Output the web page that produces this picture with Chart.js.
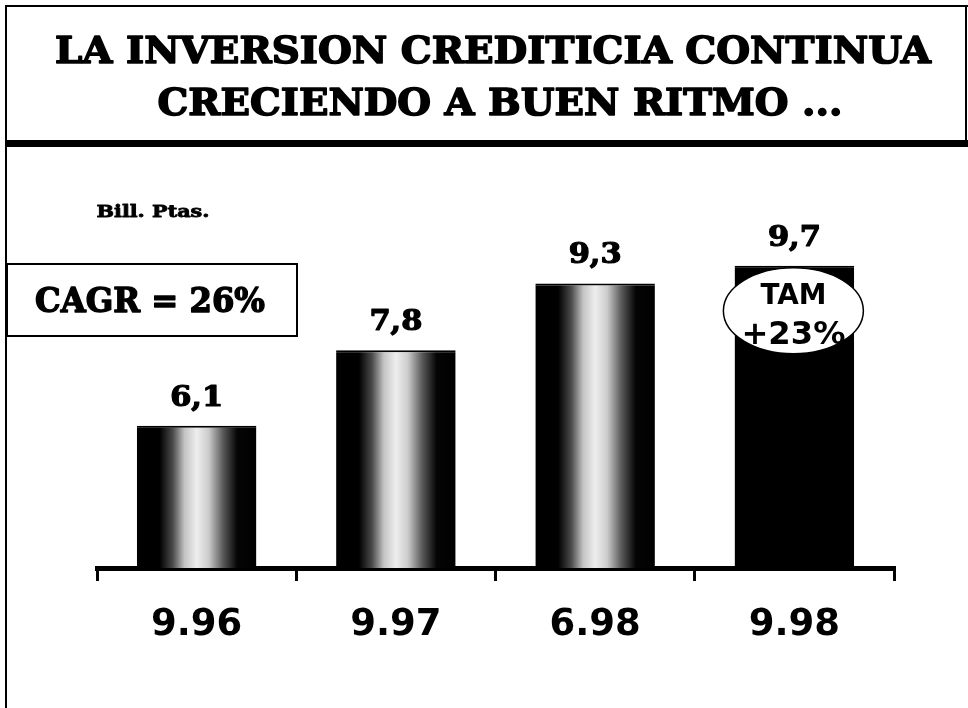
<!DOCTYPE html>
<html>
<head>
<meta charset="utf-8">
<script src="https://cdn.jsdelivr.net/npm/chart.js@4/dist/chart.umd.min.js"></script>
<style>
  html, body { margin: 0; padding: 0; background: #fff; }
  #wrap { width: 968px; height: 708px; position: relative; }
</style>
</head>
<body>
<div id="wrap"><canvas id="c" width="968" height="708"></canvas></div>
<script>
// ---- data ----
const categories = ['9.96', '9.97', '6.98', '9.98'];
const values = [6.1, 7.8, 9.3, 9.7];
const valueLabels = values.map(v => v.toFixed(1).replace('.', ','));
const titleLines = ['LA INVERSION CREDITICIA CONTINUA', 'CRECIENDO A BUEN RITMO ...'];
const unitLabel = 'Bill. Ptas.';
const cagrLabel = 'CAGR = 26%';
const tamLines = ['TAM', '+23%'];
const solidBars = [false, false, false, true];

function fitText(ctx, text, cx, baseline, font, targetW, stroke) {
  ctx.save();
  ctx.font = font;
  ctx.textAlign = 'center';
  ctx.textBaseline = 'alphabetic';
  const w = ctx.measureText(text).width;
  const sx = targetW ? targetW / w : 1;
  ctx.translate(cx, baseline);
  ctx.scale(sx, 1);
  ctx.fillStyle = '#000';
  ctx.fillText(text, 0, 0);
  if (stroke) {
    ctx.lineWidth = stroke;
    ctx.strokeStyle = '#000';
    ctx.lineJoin = 'round';
    ctx.strokeText(text, 0, 0);
  }
  ctx.restore();
}

function barFill(context) {
  const chart = context.chart;
  const i = context.dataIndex;
  if (solidBars[i]) return '#000';
  const xs = chart.scales.x;
  if (!xs || xs.width === undefined || !isFinite(xs.getPixelForValue(i))) return '#333';
  const cw = xs.width / categories.length;
  const half = cw * 0.6 / 2;
  const cx = xs.getPixelForValue(i);
  const g = chart.ctx.createLinearGradient(cx - half, 0, cx + half, 0);
  g.addColorStop(0.00, '#000');
  g.addColorStop(0.19, '#000');
  g.addColorStop(0.30, '#4a4a4a');
  g.addColorStop(0.40, '#c4c4c4');
  g.addColorStop(0.50, '#eeeeee');
  g.addColorStop(0.60, '#cccccc');
  g.addColorStop(0.72, '#5a5a5a');
  g.addColorStop(0.84, '#050505');
  g.addColorStop(1.00, '#000');
  return g;
}

const decor = {
  id: 'decor',
  beforeDraw(chart) {
    const ctx = chart.ctx;
    ctx.save();
    ctx.fillStyle = '#fff';
    ctx.fillRect(0, 0, chart.width, chart.height);
    ctx.fillStyle = '#000';
    ctx.fillRect(5, 5, 963, 2);      // top border
    ctx.fillRect(5, 5, 2, 703);      // left border
    ctx.fillRect(965, 5, 2, 141);    // right border of title box
    ctx.fillRect(5, 140, 963, 7);    // thick line under title
    ctx.restore();
  },
  afterDatasetsDraw(chart) {
    const ctx = chart.ctx;
    const meta = chart.getDatasetMeta(0);
    meta.data.forEach((el, i) => {
      fitText(ctx, valueLabels[i], el.x, el.y - 20, 'bold 28px "DejaVu Serif"', 53, 1.2);
    });
    const last = meta.data[meta.data.length - 1];
    const ex = last.x - 1, ey = last.y + 45;
    ctx.save();
    ctx.beginPath();
    ctx.ellipse(ex, ey, 70, 43, 0, 0, Math.PI * 2);
    ctx.fillStyle = '#fff';
    ctx.fill();
    ctx.lineWidth = 1.5;
    ctx.strokeStyle = '#000';
    ctx.stroke();
    ctx.restore();
    fitText(ctx, tamLines[0], ex, ey - 7, 'bold 29px "DejaVu Sans"', 66);
    fitText(ctx, tamLines[1], ex, ey + 33, 'bold 32px "DejaVu Sans"', 104);
  },
  afterDraw(chart) {
    const ctx = chart.ctx;
    fitText(ctx, titleLines[0], 493, 63, 'bold 38px "DejaVu Serif"', 876, 1.6);
    fitText(ctx, titleLines[1], 500, 115, 'bold 38px "DejaVu Serif"', 685, 1.6);
    fitText(ctx, unitLabel, 153, 217, 'bold 17px "DejaVu Serif"', 113, 0.8);
    ctx.save();
    ctx.lineWidth = 2;
    ctx.strokeStyle = '#000';
    ctx.strokeRect(7, 264, 290, 72);
    ctx.restore();
    fitText(ctx, cagrLabel, 150, 312, 'bold 33px "DejaVu Serif"', 230, 1.4);
  }
};

new Chart(document.getElementById('c'), {
  type: 'bar',
  data: {
    labels: categories,
    datasets: [{
      data: values,
      backgroundColor: barFill,
      borderColor: '#000',
      borderWidth: { top: 2, left: 0, right: 0, bottom: 0 },
      borderSkipped: 'bottom',
      barPercentage: 0.6,
      categoryPercentage: 1.0
    }]
  },
  options: {
    responsive: false,
    animation: false,
    devicePixelRatio: 1,
    layout: { padding: { left: 97, right: 74, top: 159, bottom: 40 } },
    plugins: { legend: { display: false }, tooltip: { enabled: false }, title: { display: false } },
    scales: {
      x: {
        offset: true,
        afterFit(scale) { scale.height = 100; },
        grid: { display: true, offset: true, drawOnChartArea: false, drawTicks: true, tickLength: 13, lineWidth: 3, color: '#000' },
        border: { display: true, width: 5, color: '#000' },
        ticks: { color: '#000', padding: 22, font: { family: 'DejaVu Sans', weight: 'bold', size: 37 } }
      },
      y: {
        display: false,
        min: 2.9,
        max: 12.1
      }
    }
  },
  plugins: [decor]
});
</script>
</body>
</html>
